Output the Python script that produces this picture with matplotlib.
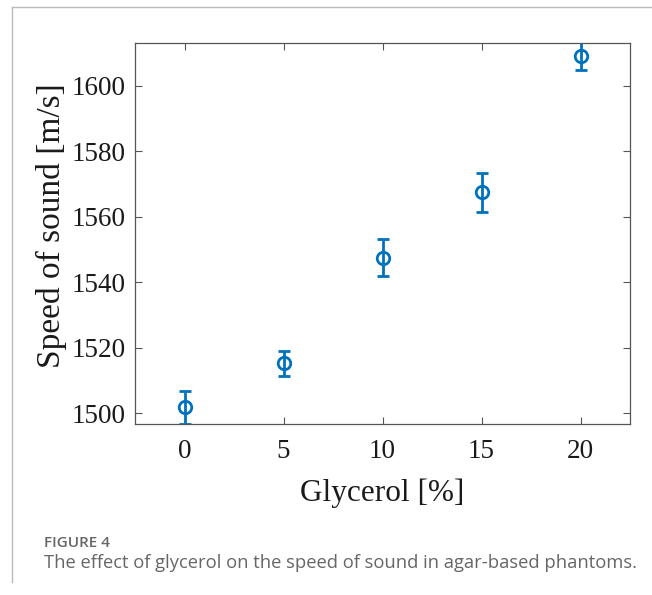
import matplotlib.pyplot as plt
from matplotlib.lines import Line2D

# data
glycerol = [0, 5, 10, 15, 20]
speed = [1501.8, 1515.2, 1547.5, 1567.5, 1609.2]
speed_err = [5.1, 3.9, 5.7, 6.0, 4.2]

xticks = [0, 5, 10, 15, 20]
yticks = [1500, 1520, 1540, 1560, 1580, 1600]

W, H = 652, 595
fig = plt.figure(figsize=(W / 100, H / 100), dpi=100)
ax = fig.add_axes([135 / W, 1 - 424 / H, (630 - 135) / W, (424 - 43) / H])

ax.errorbar(glycerol, speed, yerr=speed_err, fmt='o', color='#0072BD',
            mfc='none', mec='#0072BD', ms=9, mew=2, elinewidth=2,
            capsize=4, capthick=2)

ax.set_xlim(-2.5, 22.5)
ax.set_ylim(1496.7, 1613.1)
ax.set_xticks(xticks)
ax.set_yticks(yticks)
ax.tick_params(direction='in', top=True, right=True, length=5, width=0.8,
               labelsize=19.5, colors='#555555', labelcolor='#1a1a1a')
ax.tick_params(axis='x', pad=11)
ax.tick_params(axis='y', pad=6.5)
for lab in ax.get_xticklabels() + ax.get_yticklabels():
    lab.set_fontfamily('Liberation Serif')
for s in ax.spines.values():
    s.set_linewidth(0.9)
    s.set_color('#555555')

ax.set_xlabel('Glycerol [%]', fontsize=22.5, family='Liberation Serif',
              color='#1a1a1a', labelpad=10)
ax.set_ylabel('Speed of sound [m/s]', fontsize=24, family='Liberation Serif',
              color='#1a1a1a')
ax.yaxis.set_label_coords(-0.137, 0.52)

# page frame lines
fig.add_artist(Line2D([12 / W, 1], [1 - 7 / H, 1 - 7 / H], color='#bbbbbb', lw=1))
fig.add_artist(Line2D([12 / W, 12 / W], [1 - 7 / H, 1 - 582 / H], color='#bbbbbb', lw=1))

fig.text(44 / W, 1 - 543 / H, 'FIGURE 4', fontsize=11, family='Open Sans',
         weight='semibold', color='#666666', va='center')
fig.text(44 / W, 1 - 563 / H, 'The effect of glycerol on the speed of sound in agar-based phantoms.',
         fontsize=13.2, family='Open Sans', color='#666666', va='center')

fig.savefig('out.png', dpi=100)
